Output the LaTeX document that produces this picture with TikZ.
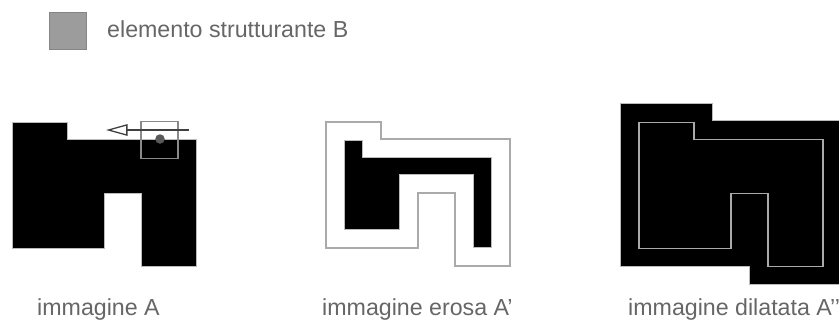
\documentclass[tikz,border=0pt]{standalone}
\usepackage{fontspec}
\setmainfont{Liberation Sans}
\usetikzlibrary{arrows.meta,positioning}
\definecolor{captiongray}{HTML}{666666}
\definecolor{probegray}{HTML}{8A8A8A}
\definecolor{edgegray}{HTML}{AAAAAA}
\tikzset{
caption/.style={anchor=base west,inner sep=0pt,text=captiongray,font=\fontsize{23.2}{27}\selectfont},
legendbox/.style={draw=captiongray!80,fill=probegray!85,line width=1.2,minimum size=37,inner sep=0pt},
blackshape/.style={fill=black,draw=edgegray!80,line width=1},
outline/.style={draw=edgegray,line width=1.3},
probe/.style={draw=probegray,line width=1.8,minimum size=37,inner sep=0pt},
probedot/.style={circle,fill=black!65,minimum size=9.5,inner sep=0pt},
probearrow/.style={-{Triangle[open,length=21.5,width=11.5,line width=1.3]},draw=black!75,line width=1.6}
}
% image A, in local coordinates
\newcommand{\shapeA}{(0,0) -- (55,0) -- (55,17) -- (184,17) -- (184,144) -- (129,144) -- (129,71) -- (92,71) -- (92,126) -- (0,126) -- cycle}
\newcommand{\shapeEroded}{(18.5,18.5) -- (36.5,18.5) -- (36.5,35.5) -- (165.5,35.5) -- (165.5,125.5) -- (147.5,125.5) -- (147.5,52.5) -- (73.5,52.5) -- (73.5,107.5) -- (18.5,107.5) -- cycle}
\newcommand{\shapeDilated}{(-18.5,-18.5) -- (73.5,-18.5) -- (73.5,-1.5) -- (202.5,-1.5) -- (202.5,162.5) -- (110.5,162.5) -- (110.5,144.5) -- (-18.5,144.5) -- cycle}
\begin{document}
\begin{tikzpicture}[x=1pt,y=-1pt]
\useasboundingbox (0,0) rectangle (839,325);
\clip (0,0) rectangle (839,325);
% legend
\node[legendbox](legend) at (67.8,30.8){};
\node[caption](legendtext) at (107,37.5){elemento strutturante B};
% image A with the structuring element
\begin{scope}[shift={(12,122)}]
\path[blackshape] \shapeA;
\end{scope}
\node[probe](probeB) at (159.5,140){};
\node[probedot](origin) at (160,139){};
\coordinate (start) at (189,130);
\coordinate (stop) at (106,130);
\draw[probearrow](start)--(stop);
% eroded image
\begin{scope}[shift={(326,122)}]
\path[outline] \shapeA;
\path[blackshape] \shapeEroded;
\end{scope}
% dilated image
\begin{scope}[shift={(639,122.3)}]
\path[blackshape] \shapeDilated;
\path[outline] \shapeA;
\end{scope}
% captions
\node[caption](capA) at (37,315.5){immagine A};
\node[caption](capEro) at (322,315.5){immagine erosa A’};
\node[caption](capDil) at (628,315.5){immagine dilatata A’’};
\end{tikzpicture}
\end{document}
